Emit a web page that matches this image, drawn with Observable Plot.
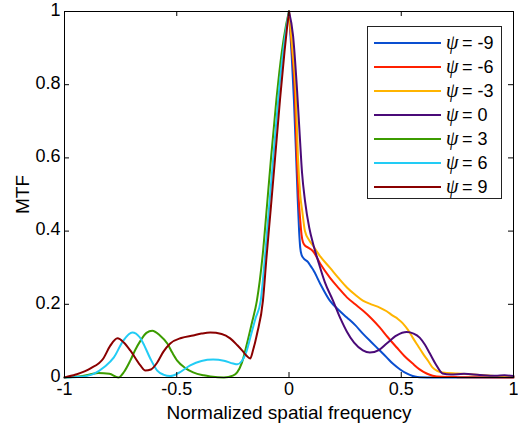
<!DOCTYPE html>
<html>
<head>
<meta charset="utf-8">
<script src="https://cdn.jsdelivr.net/npm/d3@7"></script>
<script src="https://cdn.jsdelivr.net/npm/@observablehq/plot@0.6"></script>
<style>
  html, body { margin: 0; padding: 0; background: #fff; }
</style>
</head>
<body>
<div id="chart"></div>
<script>
// ---- data ----
const psiValues = [-9, -6, -3, 0, 3, 6, 9];
const seriesColors = ["#0a4fd0", "#ff2000", "#ffb400", "#4a0a78", "#3c9c00", "#22ccf5", "#8a0000"];
const xTicks = [-1, -0.5, 0, 0.5, 1];
const yTicks = [0, 0.2, 0.4, 0.6, 0.8, 1];

// psi = -9
const freqM9 = [0, 0.012, 0.022, 0.032, 0.038, 0.045, 0.05, 0.056, 0.066, 0.084, 0.096, 0.107, 0.14, 0.182, 0.22, 0.258, 0.295, 0.329, 0.366, 0.404, 0.435, 0.462, 0.495, 0.524, 0.551, 0.58, 0.65, 1];
const mtfM9  = [1, 0.88, 0.757, 0.6, 0.5, 0.4, 0.355, 0.335, 0.325, 0.316, 0.305, 0.295, 0.255, 0.21, 0.185, 0.164, 0.143, 0.12, 0.097, 0.074, 0.055, 0.038, 0.022, 0.011, 0.004, 0.001, 0, 0];
// psi = -6
const freqM6 = [0, 0.013, 0.026, 0.035, 0.042, 0.05, 0.056, 0.062, 0.072, 0.085, 0.107, 0.14, 0.182, 0.22, 0.258, 0.295, 0.329, 0.366, 0.404, 0.44, 0.48, 0.515, 0.551, 0.58, 0.613, 0.64, 0.68, 0.75, 1];
const mtfM6  = [1, 0.9, 0.78, 0.6, 0.5, 0.43, 0.39, 0.37, 0.36, 0.355, 0.345, 0.31, 0.273, 0.245, 0.219, 0.2, 0.183, 0.162, 0.137, 0.11, 0.082, 0.058, 0.038, 0.023, 0.011, 0.005, 0.002, 0.001, 0];
// psi = -3
const freqM3 = [0, 0.015, 0.03, 0.04, 0.05, 0.06, 0.071, 0.09, 0.107, 0.14, 0.182, 0.22, 0.258, 0.295, 0.329, 0.366, 0.404, 0.435, 0.462, 0.485, 0.507, 0.53, 0.551, 0.575, 0.596, 0.62, 0.64, 0.66, 0.684, 0.75, 0.85, 0.94, 1];
const mtfM3  = [1, 0.9, 0.78, 0.6, 0.5, 0.45, 0.4, 0.375, 0.36, 0.33, 0.3, 0.272, 0.246, 0.226, 0.21, 0.2, 0.191, 0.181, 0.169, 0.16, 0.148, 0.13, 0.109, 0.086, 0.066, 0.045, 0.027, 0.018, 0.014, 0.011, 0.007, 0.003, 0.002];
// psi = 0
const freqP0 = [0, 0.018, 0.036, 0.048, 0.058, 0.071, 0.09, 0.107, 0.129, 0.16, 0.196, 0.23, 0.258, 0.29, 0.329, 0.36, 0.4, 0.435, 0.48, 0.524, 0.555, 0.582, 0.605, 0.627, 0.655, 0.684, 0.72, 0.78, 0.85, 0.92, 0.96, 1];
const mtfP0  = [1, 0.934, 0.784, 0.66, 0.56, 0.484, 0.41, 0.366, 0.32, 0.26, 0.21, 0.16, 0.125, 0.095, 0.074, 0.068, 0.075, 0.093, 0.115, 0.124, 0.12, 0.109, 0.09, 0.066, 0.035, 0.011, 0.008, 0.01, 0.007, 0.005, 0.006, 0.004];
// psi = 3
const freqP3 = [-1, -0.92, -0.85, -0.8, -0.76, -0.735, -0.707, -0.685, -0.662, -0.635, -0.609, -0.575, -0.542, -0.52, -0.498, -0.46, -0.427, -0.38, -0.35, -0.29, -0.25, -0.231, -0.21, -0.187, -0.165, -0.143, -0.118, -0.098, -0.08, -0.056, -0.032, -0.014, 0];
const mtfP3  = [0, 0.004, 0.012, 0.01, 0, 0.015, 0.046, 0.075, 0.1, 0.122, 0.128, 0.115, 0.093, 0.068, 0.046, 0.025, 0.014, 0.006, 0.003, 0, 0.005, 0.014, 0.04, 0.093, 0.15, 0.21, 0.33, 0.47, 0.6, 0.76, 0.89, 0.96, 1];
// psi = 6
const freqP6 = [-1, -0.93, -0.87, -0.82, -0.78, -0.738, -0.698, -0.665, -0.649, -0.618, -0.587, -0.56, -0.529, -0.49, -0.44, -0.39, -0.338, -0.29, -0.249, -0.23, -0.21, -0.19, -0.17, -0.15, -0.126, -0.107, -0.088, -0.07, -0.048, -0.026, -0.011, 0];
const mtfP6  = [0, 0.002, 0.01, 0.03, 0.055, 0.101, 0.123, 0.11, 0.093, 0.052, 0.019, 0.008, 0.004, 0.013, 0.033, 0.045, 0.049, 0.046, 0.038, 0.036, 0.045, 0.07, 0.115, 0.16, 0.21, 0.33, 0.47, 0.6, 0.76, 0.89, 0.96, 1];
// psi = 9
const freqP9 = [-1, -0.95, -0.884, -0.827, -0.796, -0.764, -0.735, -0.707, -0.662, -0.64, -0.615, -0.587, -0.56, -0.529, -0.48, -0.427, -0.39, -0.351, -0.3, -0.262, -0.23, -0.209, -0.19, -0.173, -0.16, -0.142, -0.116, -0.1, -0.08, -0.062, -0.04, -0.02, -0.008, 0];
const mtfP9  = [0, 0.008, 0.025, 0.052, 0.087, 0.107, 0.095, 0.074, 0.033, 0.019, 0.022, 0.041, 0.07, 0.093, 0.108, 0.115, 0.12, 0.123, 0.119, 0.107, 0.088, 0.074, 0.06, 0.052, 0.075, 0.12, 0.21, 0.33, 0.47, 0.6, 0.76, 0.89, 0.96, 1];

const freqs = [freqM9, freqM6, freqM3, freqP0, freqP3, freqP6, freqP9];
const mtfs  = [mtfM9, mtfM6, mtfM3, mtfP0, mtfP3, mtfP6, mtfP9];

// ---- build table ----
const seriesNames = psiValues.map(p => "ψ = " + p);
const table = [];
psiValues.forEach((p, i) => {
  const n = Math.min(freqs[i].length, mtfs[i].length);
  for (let k = 0; k < n; k++) table.push({series: seriesNames[i], f: freqs[i][k], v: mtfs[i][k]});
});

const W = 518, H = 429, mL = 64, mR = 5, mT = 11, mB = 52;
const pw = W - mL - mR, ph = H - mT - mB, tk = 5;

const chart = Plot.plot({
  width: W, height: H,
  marginLeft: mL, marginRight: mR, marginTop: mT, marginBottom: mB,
  style: {fontFamily: "'Liberation Sans', Arial, sans-serif", fontSize: "18px", background: "#fff", color: "#000"},
  x: {domain: [-1, 1]},
  y: {domain: [0, 1]},
  color: {domain: seriesNames, range: seriesColors},
  marks: [
    Plot.line(table, {x: "f", y: "v", z: "series", stroke: "series", strokeWidth: 2, curve: "monotone-x"}),
    Plot.frame({stroke: "#000", strokeWidth: 1}),
    Plot.tickY(yTicks, {y: d => d, insetRight: pw - tk, stroke: "#000"}),
    Plot.tickY(yTicks, {y: d => d, insetLeft: pw - tk, stroke: "#000"}),
    Plot.tickX(xTicks, {x: d => d, insetTop: ph - tk, stroke: "#000"}),
    Plot.tickX(xTicks, {x: d => d, insetBottom: ph - tk, stroke: "#000"}),
    Plot.axisX({ticks: xTicks, tickSize: 0, tickPadding: 5, tickFormat: d => String(d), label: null, fontSize: 18}),
    Plot.axisY({ticks: yTicks, tickSize: 0, tickPadding: 4, dy: -1.5, tickFormat: d => String(d), label: null, fontSize: 18}),
    Plot.text(["Normalized spatial frequency"], {frameAnchor: "bottom", dy: 35, lineAnchor: "middle", textAnchor: "middle", fontSize: 19, fill: "#000"}),
    Plot.text(["MTF"], {frameAnchor: "left", dx: -42, rotate: -90, lineAnchor: "middle", textAnchor: "middle", fontSize: 19, fill: "#000"})
  ]
});

document.getElementById("chart").appendChild(chart);

// ---- legend (inside plot, upper right) ----
const svg = d3.select(chart);
const lg = svg.append("g").attr("transform", "translate(367.5,26.5)").attr("text-anchor", "start");
const rowH = 24;
lg.append("rect").attr("width", 134).attr("height", 172).attr("fill", "#fff").attr("stroke", "#222").attr("stroke-width", 1);
psiValues.forEach((p, i) => {
  const y = 16.5 + i * rowH;
  lg.append("line").attr("x1", 6.5).attr("x2", 73.5).attr("y1", y).attr("y2", y)
    .attr("stroke", seriesColors[i]).attr("stroke-width", 2);
  lg.append("text").attr("x", 78.5).attr("y", y).attr("dy", "0.32em").attr("text-anchor", "start")
    .attr("font-family", "'Liberation Serif', 'DejaVu Serif', serif").attr("font-style", "italic")
    .attr("font-size", 20).attr("fill", "#000").text("ψ");
  lg.append("text").attr("x", 94.5).attr("y", y).attr("dy", "0.35em").attr("text-anchor", "start")
    .attr("font-family", "'Liberation Sans', Arial, sans-serif")
    .attr("font-size", 18).attr("fill", "#000").text("= " + String(p));
});
</script>
</body>
</html>
